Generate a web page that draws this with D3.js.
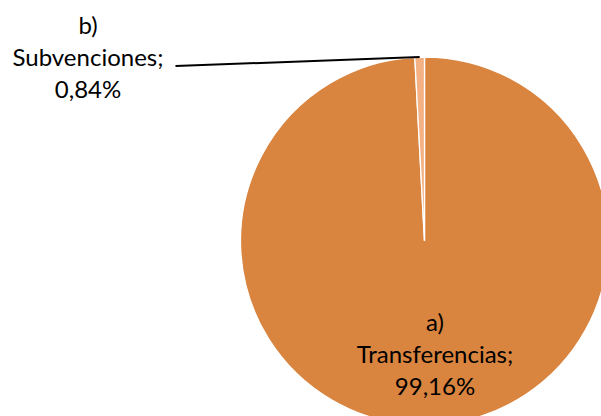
<!DOCTYPE html>
<html>
<head>
<meta charset="utf-8">
<script src="https://cdn.jsdelivr.net/npm/d3@7"></script>
<style>
html,body{margin:0;padding:0;background:#fff;}
svg{display:block;}
text{font-family:Lato, "Open Sans", sans-serif;fill:#000;}
</style>
</head>
<body>
<svg id="chart" width="601" height="416"></svg>
<script>
const categories = ["a) Transferencias", "b) Subvenciones"];
const labelLines = [["a)", "Transferencias;", "99,16%"], ["b)", "Subvenciones;", "0,84%"]];
const values = [99.16, 0.84];
const colors = ["#D9843F", "#F4B183"];

const W = 601, H = 416;
const cx = 424.5, cy = 241, R = 184;
const svg = d3.select("#chart");

const pie = d3.pie().sort(null).value(d => d)(values);
const arc = d3.arc().innerRadius(0).outerRadius(R);
const g = svg.append("g").attr("transform", `translate(${cx},${cy})`);
g.selectAll("path").data(pie).enter().append("path")
  .attr("d", arc)
  .attr("fill", (d, i) => colors[i])
  .attr("stroke", "#fff").attr("stroke-width", 1.3);

const fs = 24, lh = 32;
// label a (inside)
const la = svg.append("text").attr("font-size", fs).attr("text-anchor", "middle");
labelLines[0].forEach((t, i) => la.append("tspan").attr("x", 435).attr("y", 331 + i * lh).text(t));
// label b (outside)
const lb = svg.append("text").attr("font-size", fs).attr("text-anchor", "middle");
const tspans = labelLines[1].map((t, i) => lb.append("tspan").attr("x", 88).attr("y", 33.5 + i * lh).text(t));
const midLen = tspans[1].node().getComputedTextLength();
const startX = 88 + midLen / 2 + 12;
const midA = (pie[1].startAngle + pie[1].endAngle) / 2;
const ex = cx + R * Math.sin(midA), ey = cy - R * Math.cos(midA);
svg.append("line").attr("x1", startX).attr("y1", 66).attr("x2", ex).attr("y2", ey)
  .attr("stroke", "#000").attr("stroke-width", 2);
</script>
</body>
</html>
